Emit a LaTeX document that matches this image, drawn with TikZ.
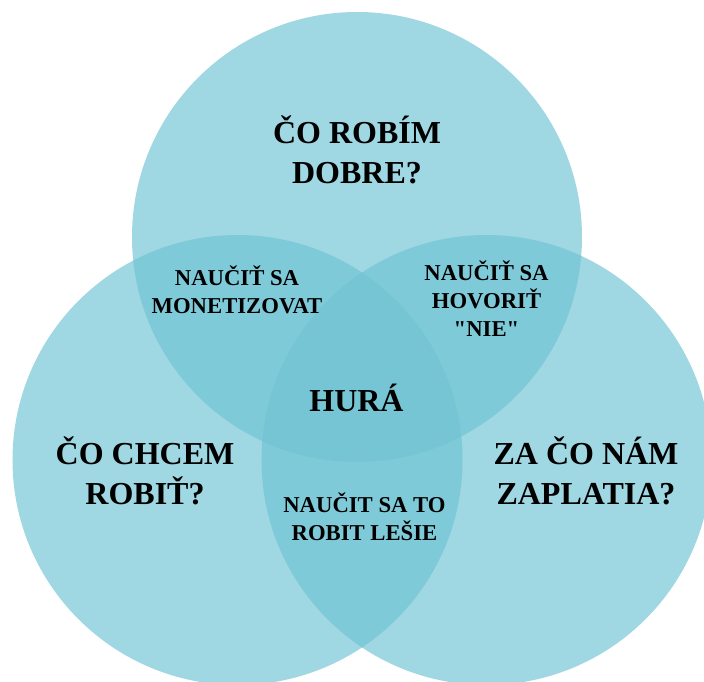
\documentclass[tikz,border=0pt]{standalone}
\usepackage{fontspec}
\setmainfont{Liberation Serif}[Ligatures=TeXOff]
\definecolor{onecol}{RGB}{159,215,226}
\definecolor{twocol}{RGB}{127,202,216}
\definecolor{threecol}{RGB}{118,197,212}
\tikzset{
  bigtext/.style={font=\bfseries\fontsize{32}{40}\selectfont, align=center, inner sep=0pt, anchor=base, text=black},
  smalltext/.style={font=\bfseries\fontsize{22.7}{28}\selectfont, align=center, inner sep=0pt, anchor=base, text=black},
}
\begin{document}
\begin{tikzpicture}[x=1pt,y=-1pt]
\useasboundingbox (0,0) rectangle (704,682);
\coordinate (ctop) at (357,237);
\coordinate (cleft) at (237.5,460);
\coordinate (cright) at (486.5,460);
\begin{scope}
  \clip (0,0) rectangle (704,682);
  % single circles
  \fill[onecol] (ctop) circle[radius=225pt];
  \fill[onecol] (cleft) circle[radius=225pt];
  \fill[onecol] (cright) circle[radius=225pt];
  % pairwise overlaps
  \begin{scope}
    \clip (ctop) circle[radius=225pt];
    \fill[twocol] (cleft) circle[radius=225pt];
    \fill[twocol] (cright) circle[radius=225pt];
  \end{scope}
  % overlap of all three
  \begin{scope}
    \clip (cleft) circle[radius=225pt];
    \fill[twocol] (cright) circle[radius=225pt];
    \clip (cright) circle[radius=225pt];
    \fill[threecol] (ctop) circle[radius=225pt];
  \end{scope}
\end{scope}
% labels (anchored at the baseline of their last line)
\node[bigtext] (good) at (357,183) {ČO ROBÍM\\DOBRE?};
\node[bigtext] (want) at (145,504) {ČO CHCEM\\ROBIŤ?};
\node[bigtext] (paid) at (586,504) {ZA ČO NÁM\\ZAPLATIA?};
\node[bigtext] (hura) at (356.5,411) {HURÁ};
\node[smalltext] (money) at (237,313) {NAUČIŤ SA\\MONETIZOVAT};
\node[smalltext] (sayno) at (486.5,336) {NAUČIŤ SA\\HOVORIŤ\\"NIE"};
\node[smalltext] (better) at (364.5,540) {NAUČIT SA TO\\ROBIT LEŠIE};
\end{tikzpicture}
\end{document}
